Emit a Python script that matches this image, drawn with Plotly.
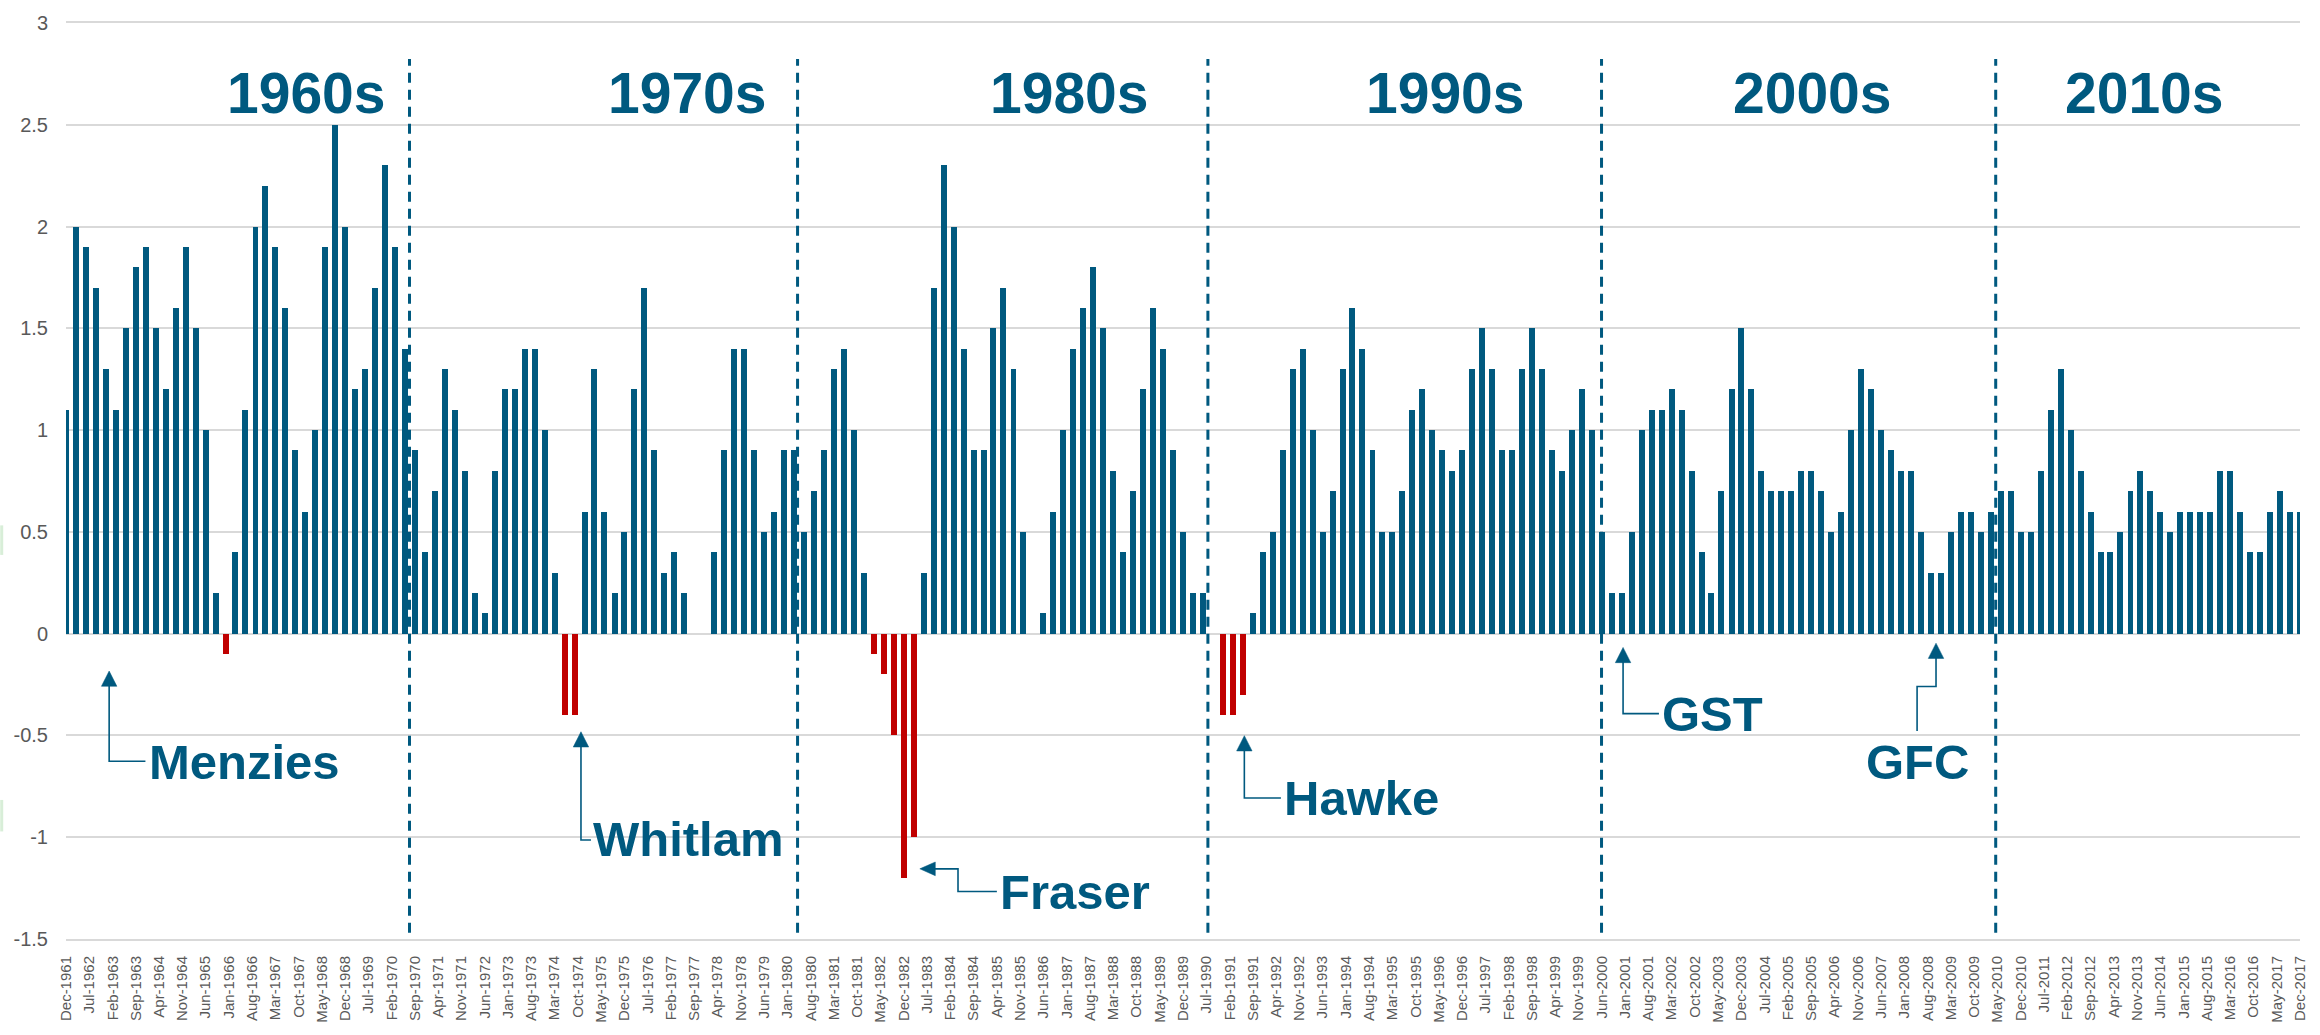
import pandas as pd
import plotly.graph_objects as go

# ---------------- data ----------------
first_quarter = "1961-12-01"
values = [
    # Dec-1961 .. Jun-1970
    1.1, 2.0, 1.9, 1.7, 1.3, 1.1, 1.5, 1.8, 1.9, 1.5, 1.2, 1.6, 1.9, 1.5, 1.0, 0.2, -0.1, 0.4,
    1.1, 2.0, 2.2, 1.9, 1.6, 0.9, 0.6, 1.0, 1.9, 2.5, 2.0, 1.2, 1.3, 1.7, 2.3, 1.9, 1.4,
    # Sep-1970 .. Mar-1980
    0.9, 0.4, 0.7, 1.3, 1.1, 0.8, 0.2, 0.1, 0.8, 1.2, 1.2, 1.4, 1.4, 1.0, 0.3, -0.4, -0.4,
    0.6, 1.3, 0.6, 0.2, 0.5, 1.2, 1.7, 0.9, 0.3, 0.4, 0.2, 0.0, 0.0, 0.4, 0.9, 1.4, 1.4,
    0.9, 0.5, 0.6, 0.9, 0.9,
    # Jun-1980 .. Jun-1990
    0.5, 0.7, 0.9, 1.3, 1.4, 1.0, 0.3, -0.1, -0.2, -0.5, -1.2, -1.0, 0.3, 1.7, 2.3, 2.0,
    1.4, 0.9, 0.9, 1.5, 1.7, 1.3, 0.5, 0.0, 0.1, 0.6, 1.0, 1.4, 1.6, 1.8, 1.5, 0.8, 0.4,
    0.7, 1.2, 1.6, 1.4, 0.9, 0.5, 0.2, 0.2,
    # Sep-1990 .. Sep-2000
    0.0, -0.4, -0.4, -0.3, 0.1, 0.4, 0.5, 0.9, 1.3, 1.4, 1.0, 0.5, 0.7, 1.3, 1.6, 1.4,
    0.9, 0.5, 0.5, 0.7, 1.1, 1.2, 1.0, 0.9, 0.8, 0.9, 1.3, 1.5, 1.3, 0.9, 0.9, 1.3, 1.5,
    1.3, 0.9, 0.8, 1.0, 1.2, 1.0, 0.5, 0.2,
    # Dec-2000 .. Jun-2010
    0.2, 0.5, 1.0, 1.1, 1.1, 1.2, 1.1, 0.8, 0.4, 0.2, 0.7, 1.2, 1.5, 1.2, 0.8, 0.7, 0.7,
    0.7, 0.8, 0.8, 0.7, 0.5, 0.6, 1.0, 1.3, 1.2, 1.0, 0.9, 0.8, 0.8, 0.5, 0.3, 0.3, 0.5,
    0.6, 0.6, 0.5, 0.6, 0.7,
    # Sep-2010 .. Dec-2017
    0.7, 0.5, 0.5, 0.8, 1.1, 1.3, 1.0, 0.8, 0.6, 0.4, 0.4, 0.5, 0.7, 0.8, 0.7, 0.6, 0.5,
    0.6, 0.6, 0.6, 0.6, 0.8, 0.8, 0.6, 0.4, 0.4, 0.6, 0.7, 0.6, 0.6,
]
quarters = pd.date_range(first_quarter, periods=len(values), freq="3MS")

tick_dates = pd.date_range("1961-12-01", "2017-12-01", freq="7MS")
tick_labels = [d.strftime("%b-%Y") for d in tick_dates]

y_tick_values = [3, 2.5, 2, 1.5, 1, 0.5, 0, -0.5, -1, -1.5]
y_tick_labels = ["3", "2.5", "2", "1.5", "1", "0.5", "0", "-0.5", "-1", "-1.5"]

decade_labels = ["1960s", "1970s", "1980s", "1990s", "2000s", "2010s"]
divider_dates = ["1970-07-12", "1980-04-03", "1990-07-17", "2000-05-29", "2010-04-16"]
event_labels = ["Menzies", "Whitlam", "Fraser", "Hawke", "GST", "GFC"]

# ---------------- styles / layout geometry ----------------
BLUE = "#00597f"
RED = "#c00000"
GRID = "#d9d9d9"
TICK_GREY = "#595959"
FONT = "Liberation Sans, Arial, sans-serif"

W, H = 2320, 1035
L, R, T, B = 66, 12.5, 16.5, 87.7
PW, PH = W - L - R, H - T - B


def px(x):
    return (x - L) / PW


def py(y):
    return (H - B - y) / PH


bar_colors = [BLUE if v >= 0 else RED for v in values]
bar_width_ms = 54.75 * 86400000

fig = go.Figure()
fig.add_trace(go.Bar(
    x=quarters, y=values, width=bar_width_ms,
    marker=dict(color=bar_colors, line=dict(width=0)),
    hoverinfo="x+y", showlegend=False,
))

shapes = []
annotations = []

# decade dividers
for d in divider_dates:
    shapes.append(dict(type="line", xref="x", yref="paper", x0=d, x1=d,
                       y0=py(941), y1=py(53),
                       line=dict(color=BLUE, width=3, dash="10px,7px"), layer="above"))

decade_centres = [307, 690, 1073.3, 1450, 1818.8, 2151.7]
for lab, cx in zip(decade_labels, decade_centres):
    annotations.append(dict(text=lab, xref="paper", yref="paper", x=px(cx), y=py(87.5),
                            xanchor="center", yanchor="middle", showarrow=False,
                            font=dict(family=FONT, size=57, color=BLUE, weight="bold")))

# event call-outs: (tip, direction, polyline, text left x, text cap-mid y)
callouts = [
    ((109.3, 675), "up", [(109.3, 689), (109.3, 766.7), (145.7, 766.7)], 148.3, 767),
    ((582.7, 736.7), "up", [(582.7, 750), (582.7, 846.7), (592.7, 846.7)], 594, 846),
    ((922.7, 876), "left", [(937, 876), (961, 876), (961, 899), (1000, 899)], 1001.7, 900),
    ((1248.3, 740.7), "up", [(1248.3, 754), (1248.3, 804), (1285, 804)], 1286.7, 804),
    ((1628.3, 651), "up", [(1628.3, 665), (1628.3, 718.3), (1664.3, 718.3)], 1666, 719),
    ((1942.3, 646.7), "up", [(1942.3, 660), (1942.3, 690.7), (1923.3, 690.7), (1923.3, 736)], 1872.7, 767),
]
HEAD_L, HEAD_W = 15.5, 15.5
for lab, (tip, direction, poly, tx, ty) in zip(event_labels, callouts):
    path = "M " + " L ".join(f"{px(x)},{py(y)}" for x, y in poly)
    shapes.append(dict(type="path", xref="paper", yref="paper", path=path,
                       line=dict(color=BLUE, width=1.6), layer="above"))
    x0, y0 = tip
    if direction == "up":
        pts = [(x0, y0), (x0 - HEAD_W / 2, y0 + HEAD_L), (x0 + HEAD_W / 2, y0 + HEAD_L)]
    else:
        pts = [(x0, y0), (x0 + HEAD_L, y0 - HEAD_W / 2 + 0.8), (x0 + HEAD_L, y0 + HEAD_W / 2 - 0.8)]
    tri = "M " + " L ".join(f"{px(x)},{py(y)}" for x, y in pts) + " Z"
    shapes.append(dict(type="path", xref="paper", yref="paper", path=tri,
                       fillcolor=BLUE, line=dict(color=BLUE, width=0.5), layer="above"))
    if lab == "GFC":
        annotations.append(dict(text=lab, xref="paper", yref="paper", x=px(1924), y=py(ty),
                                xanchor="center", yanchor="middle", showarrow=False,
                                font=dict(family=FONT, size=49, color=BLUE, weight="bold")))
    else:
        annotations.append(dict(text=lab, xref="paper", yref="paper", x=px(tx - 1), y=py(ty),
                                xanchor="left", yanchor="middle", showarrow=False,
                                font=dict(family=FONT, size=49, color=BLUE, weight="bold")))

# small light-green marks at the left edge of the reference image
for y_top, y_bot in [(527, 557), (806, 838)]:
    shapes.append(dict(type="rect", xref="paper", yref="paper", x0=px(0), x1=px(3),
                       y0=py(y_bot), y1=py(y_top), fillcolor="#d8eed8",
                       line=dict(width=0), layer="above"))

fig.update_layout(
    width=W, height=H,
    margin=dict(l=L, r=R, t=T, b=B, pad=0),
    paper_bgcolor="white", plot_bgcolor="white",
    bargap=0,
    shapes=shapes, annotations=annotations,
    font=dict(family=FONT, color=TICK_GREY),
    xaxis=dict(
        type="date", range=[quarters[0], quarters[-1]],
        tickmode="array", tickvals=tick_dates, ticktext=tick_labels,
        tickangle=-90, tickfont=dict(family=FONT, size=15, color=TICK_GREY),
        showgrid=False, zeroline=False, ticks="", ticklabelstandoff=9,
        showline=True, linecolor=GRID, linewidth=2, mirror=True,
        fixedrange=True,
    ),
    yaxis=dict(
        range=[-1.5, 3], tickmode="array", tickvals=y_tick_values, ticktext=y_tick_labels,
        tickfont=dict(family=FONT, size=20, color=TICK_GREY),
        showgrid=True, gridcolor=GRID, gridwidth=2,
        zeroline=True, zerolinecolor=GRID, zerolinewidth=2,
        ticks="", ticklabelstandoff=17, showline=False, fixedrange=True,
    ),
)

fig.write_html("out.html", config={"displayModeBar": False},
               post_script="document.body.style.margin='0';document.body.style.overflow='hidden';")
